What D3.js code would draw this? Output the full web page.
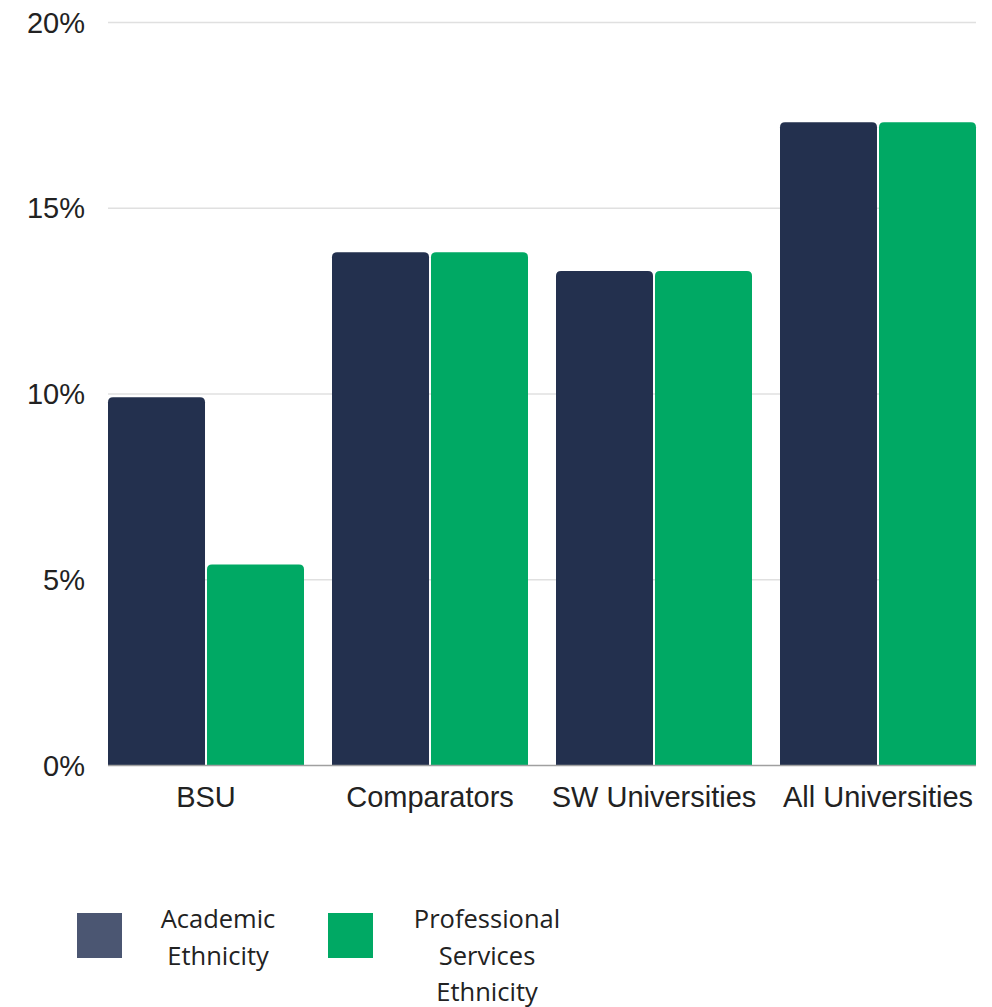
<!DOCTYPE html>
<html><head><meta charset="utf-8">
<script src="https://cdn.jsdelivr.net/npm/d3@7"></script>
<style>html,body{margin:0;padding:0;background:#fff;}svg{display:block;}</style>
</head><body>
<script>
const categories = ["BSU", "Comparators", "SW Universities", "All Universities"];
const seriesNames = ["Academic Ethnicity", "Professional Services Ethnicity"];
const academic = [9.9, 13.8, 13.3, 17.3];
const professional = [5.4, 13.8, 13.3, 17.3];
const yTicks = [0, 5, 10, 15, 20];
const legendLines = [["Academic", "Ethnicity"], ["Professional", "Services", "Ethnicity"]];

const W = 992, H = 1007;
const colors = ["#23304e", "#00a964"];
const swatchColors = ["#4b5672", "#00a964"];

const svg = d3.select("body").append("svg").attr("width", W).attr("height", H);

const x0 = d3.scaleBand().domain(categories).range([108, 976]).paddingInner(0.125).paddingOuter(0);
const x1 = d3.scaleBand().domain([0, 1]).range([0, x0.bandwidth()]).paddingInner(0.02);
const y = d3.scaleLinear().domain([0, 20]).range([765, 22]);

// gridlines
svg.append("g").selectAll("line").data(yTicks.filter(d => d > 0)).join("line")
  .attr("x1", 108).attr("x2", 976)
  .attr("y1", d => y(d) + 0.5).attr("y2", d => y(d) + 0.5)
  .attr("stroke", "#e0e0e0").attr("stroke-width", 1.5);

// y labels
const yAxis = d3.axisLeft(y).tickValues(yTicks).tickFormat(d => d + "%").tickSize(0).tickPadding(0);
const gy = svg.append("g").attr("transform", "translate(85,0)").call(yAxis);
gy.select(".domain").remove();
gy.selectAll("text").attr("font-family", "Liberation Sans, Arial, sans-serif")
  .attr("font-size", 29).attr("fill", "#222").attr("dy", "0.35em");

// bars
function topRounded(x, yTop, w, h, r) {
  r = Math.min(r, h, w / 2);
  return `M${x},${yTop + h}V${yTop + r}Q${x},${yTop} ${x + r},${yTop}H${x + w - r}Q${x + w},${yTop} ${x + w},${yTop + r}V${yTop + h}Z`;
}
const rows = [];
categories.forEach((c, i) => {
  rows.push({cat: c, s: 0, v: academic[i]});
  rows.push({cat: c, s: 1, v: professional[i]});
});
svg.append("g").selectAll("path").data(rows).join("path")
  .attr("d", d => topRounded(x0(d.cat) + x1(d.s), y(d.v), x1.bandwidth(), y(0) - y(d.v), 5))
  .attr("fill", d => colors[d.s]);

// baseline
svg.append("line").attr("x1", 108).attr("x2", 976).attr("y1", 765.5).attr("y2", 765.5)
  .attr("stroke", "#a0a0a0").attr("stroke-width", 1.5);

// x labels
const xAxis = d3.axisBottom(x0).tickSize(0).tickPadding(0);
const gx = svg.append("g").attr("transform", "translate(0,807)").call(xAxis);
gx.select(".domain").remove();
gx.selectAll("text").attr("font-family", "Liberation Sans, Arial, sans-serif")
  .attr("font-size", 29).attr("fill", "#222").attr("dy", "0");

// legend
const legendSwatchX = [77, 328];
const legendTextX = [218, 487];
seriesNames.forEach((name, i) => {
  const g = svg.append("g");
  g.append("rect").attr("x", legendSwatchX[i]).attr("y", 913).attr("width", 45).attr("height", 45)
    .attr("fill", swatchColors[i]);
  const t = g.append("text").attr("font-family", "Open Sans, sans-serif").attr("font-size", 25.5)
    .attr("fill", "#222").attr("text-anchor", "middle");
  legendLines[i].forEach((ln, j) => {
    t.append("tspan").attr("x", legendTextX[i]).attr("y", 928 + j * 36.5).text(ln);
  });
});
</script>
</body></html>
